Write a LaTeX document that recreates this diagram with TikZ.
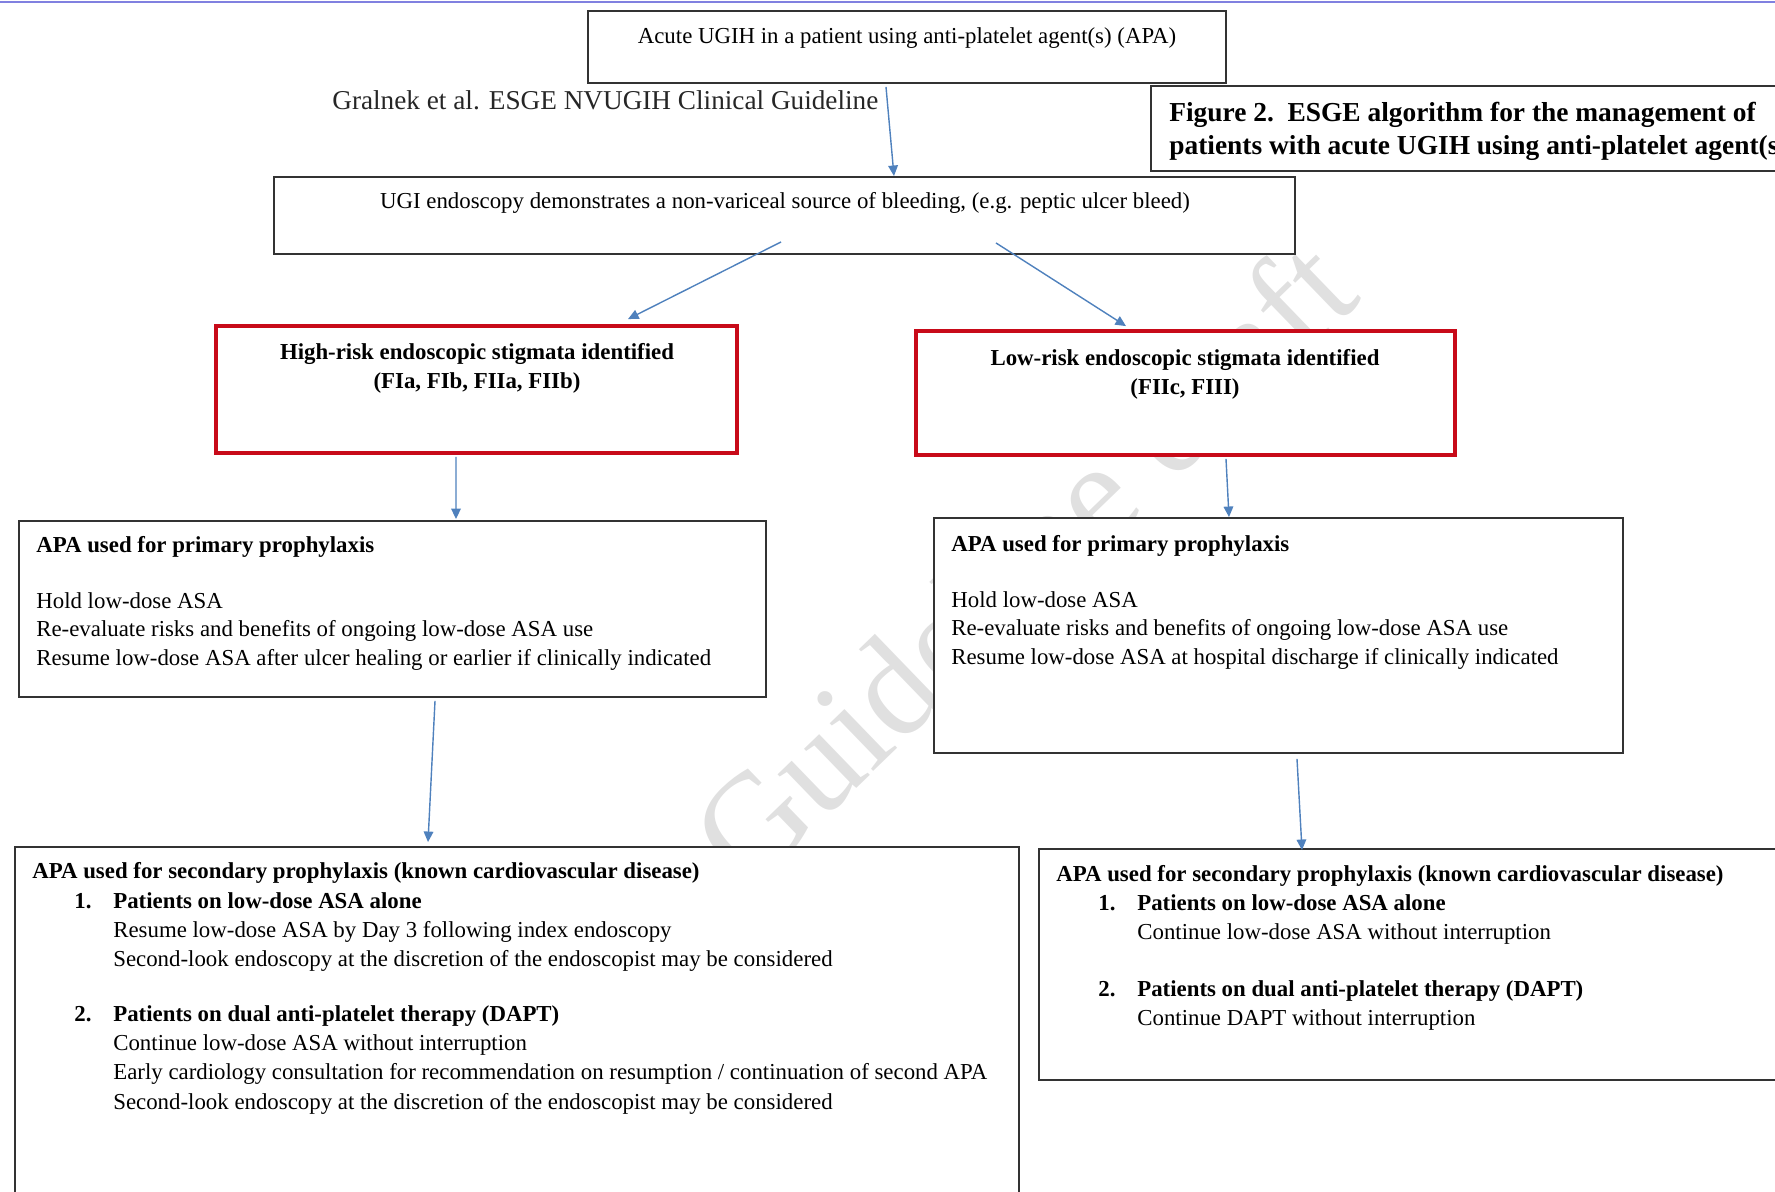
\documentclass[tikz,border=0pt]{standalone}
\usepackage{fontspec}
\setmainfont{Liberation Serif}
\usetikzlibrary{calc,arrows.meta}

\definecolor{arrowblue}{RGB}{79,129,189}
\definecolor{riskred}{RGB}{200,10,25}
\definecolor{rulelilac}{RGB}{128,128,224}

% numbered heading and indented line inside the prophylaxis boxes
\newcommand{\apaitem}[2]{\hspace*{0.84cm}\makebox[0.78cm][l]{\textbf{#1}}\textbf{#2}}
\newcommand{\apaline}[1]{\hspace*{1.62cm}#1}

\begin{document}
\begin{tikzpicture}[
        x=0.02cm, y=-0.02cm, % one unit = one pixel of the page
        box/.style={draw=black!80, line width=1.1pt, fill=white, inner sep=0pt}, % plain box
        redbox/.style={draw=riskred, line width=2.2pt, fill=white, inner sep=0pt}, % stigmata box
        txt/.style={inner sep=0pt, font=\fontsize{13}{16.3}\selectfont}, % box text
        wmark/.style={inner sep=0pt, text=gray!24, font=\fontsize{80}{80}\selectfont}, % draft stamp
        flow/.style={draw=arrowblue, line width=0.8pt, -{Triangle[length=6pt,width=5.5pt]}} % arrow styling
        ]

        % Page frame
        \useasboundingbox (0,0) rectangle (1775,1191);
        \clip (0,0) rectangle (1775,1191);
        \draw[rulelilac, line width=1pt] (0,2) -- (1775,2);

        % Draft stamp behind the boxes
        \node[wmark, rotate=44, anchor=base west] (stamp) at (748,893) {Guideline draft};

        % Define boxes
        \node[box, minimum width=12.76cm, minimum height=1.44cm] (acute) at (907,47) {};
        \node[box, minimum width=12.98cm, minimum height=1.7cm] (figbox) at (1475.5,128.5) {};
        \node[box, minimum width=20.42cm, minimum height=1.54cm] (ugi) at (784.5,215.5) {};
        \node[redbox, minimum width=10.42cm, minimum height=2.54cm] (high) at (476.5,389.5) {};
        \node[redbox, minimum width=10.78cm, minimum height=2.48cm] (low) at (1185.5,393) {};
        \node[box, minimum width=14.94cm, minimum height=3.52cm] (apaL) at (392.5,609) {};
        \node[box, minimum width=13.78cm, minimum height=4.7cm] (apaR) at (1278.5,635.5) {};
        \node[box, minimum width=20.08cm, minimum height=7.06cm] (secL) at (517,1023.5) {};
        \node[box, minimum width=15.22cm, minimum height=4.62cm] (secR) at (1419.5,964.5) {};

        % Texts
        \node[txt, anchor=base] (acuteText) at (907,43.5) {Acute UGIH in a patient using anti-platelet agent(s) (APA)};
        \node[txt, anchor=base west, font=\fontsize{15.5}{19}\selectfont, text=black!85] (gralnek) at (332,109)
            {Gralnek et al. ESGE NVUGIH Clinical Guideline};
        \node[txt, anchor=north west, align=left, font=\bfseries\fontsize{15.6}{18.8}\selectfont] (figText) at (1169,101.5)
            {Figure 2.\ \ ESGE algorithm for the management of\\patients with acute UGIH using anti-platelet agent(s)};
        \node[txt, anchor=base] (ugiText) at (785,208.5)
            {UGI endoscopy demonstrates a non-variceal source of bleeding, (e.g. peptic ulcer bleed)};
        \node[txt, anchor=north, align=center, font=\bfseries\fontsize{13}{16.4}\selectfont] (highText) at (477,343.5)
            {High-risk endoscopic stigmata identified\\(FIa, FIb, FIIa, FIIb)};
        \node[txt, anchor=north, align=center, font=\bfseries\fontsize{13}{16.4}\selectfont] (lowText) at (1185,349.5)
            {Low-risk endoscopic stigmata identified\\(FIIc, FIII)};
        \node[txt, anchor=north west, align=left] (apaLText) at (36,536.5)
            {\textbf{APA used for primary prophylaxis}\\[0.53cm]
             Hold low-dose ASA\\
             Re-evaluate risks and benefits of ongoing low-dose ASA use\\
             Resume low-dose ASA after ulcer healing or earlier if clinically indicated};
        \node[txt, anchor=north west, align=left] (apaRText) at (951,535.5)
            {\textbf{APA used for primary prophylaxis}\\[0.53cm]
             Hold low-dose ASA\\
             Re-evaluate risks and benefits of ongoing low-dose ASA use\\
             Resume low-dose ASA at hospital discharge if clinically indicated};
        \node[txt, anchor=north west, align=left, font=\fontsize{13}{16.6}\selectfont] (secLText) at (32,862.5)
            {\textbf{APA used for secondary prophylaxis (known cardiovascular disease)}\\
             \apaitem{1.}{Patients on low-dose ASA alone}\\
             \apaline{Resume low-dose ASA by Day 3 following index endoscopy}\\
             \apaline{Second-look endoscopy at the discretion of the endoscopist may be considered}\\[0.52cm]
             \apaitem{2.}{Patients on dual anti-platelet therapy (DAPT)}\\
             \apaline{Continue low-dose ASA without interruption}\\
             \apaline{Early cardiology consultation for recommendation on resumption / continuation of second APA}\\
             \apaline{Second-look endoscopy at the discretion of the endoscopist may be considered}};
        \node[txt, anchor=north west, align=left] (secRText) at (1056,865.5)
            {\textbf{APA used for secondary prophylaxis (known cardiovascular disease)}\\
             \apaitem{1.}{Patients on low-dose ASA alone}\\
             \apaline{Continue low-dose ASA without interruption}\\[0.58cm]
             \apaitem{2.}{Patients on dual anti-platelet therapy (DAPT)}\\
             \apaline{Continue DAPT without interruption}};

        % Draw arrows
        \draw[flow] ($(acute.south)+(-21,3)$) -- ($(ugi.north)+(109.5,0)$);
        \draw[flow] ($(ugi.south)+(-3.5,-13)$) -- ($(high.north)+(151.5,-5)$);
        \draw[flow] ($(ugi.south)+(211.5,-12)$) -- ($(low.north)+(-59.5,-3)$);
        \draw[flow] ($(high.south)+(-20.5,2)$) -- ($(apaL.north)+(63.5,-1)$);
        \draw[flow] ($(low.south)+(40.5,2)$) -- ($(apaR.north)+(-49.5,0)$);
        \draw[flow] ($(apaL.south)+(42.5,3)$) -- ($(secL.north)+(-89,-4)$);
        \draw[flow] ($(apaR.south)+(18.5,5)$) -- ($(secR.north)+(-117.5,2)$);

    \end{tikzpicture}
\end{document}
